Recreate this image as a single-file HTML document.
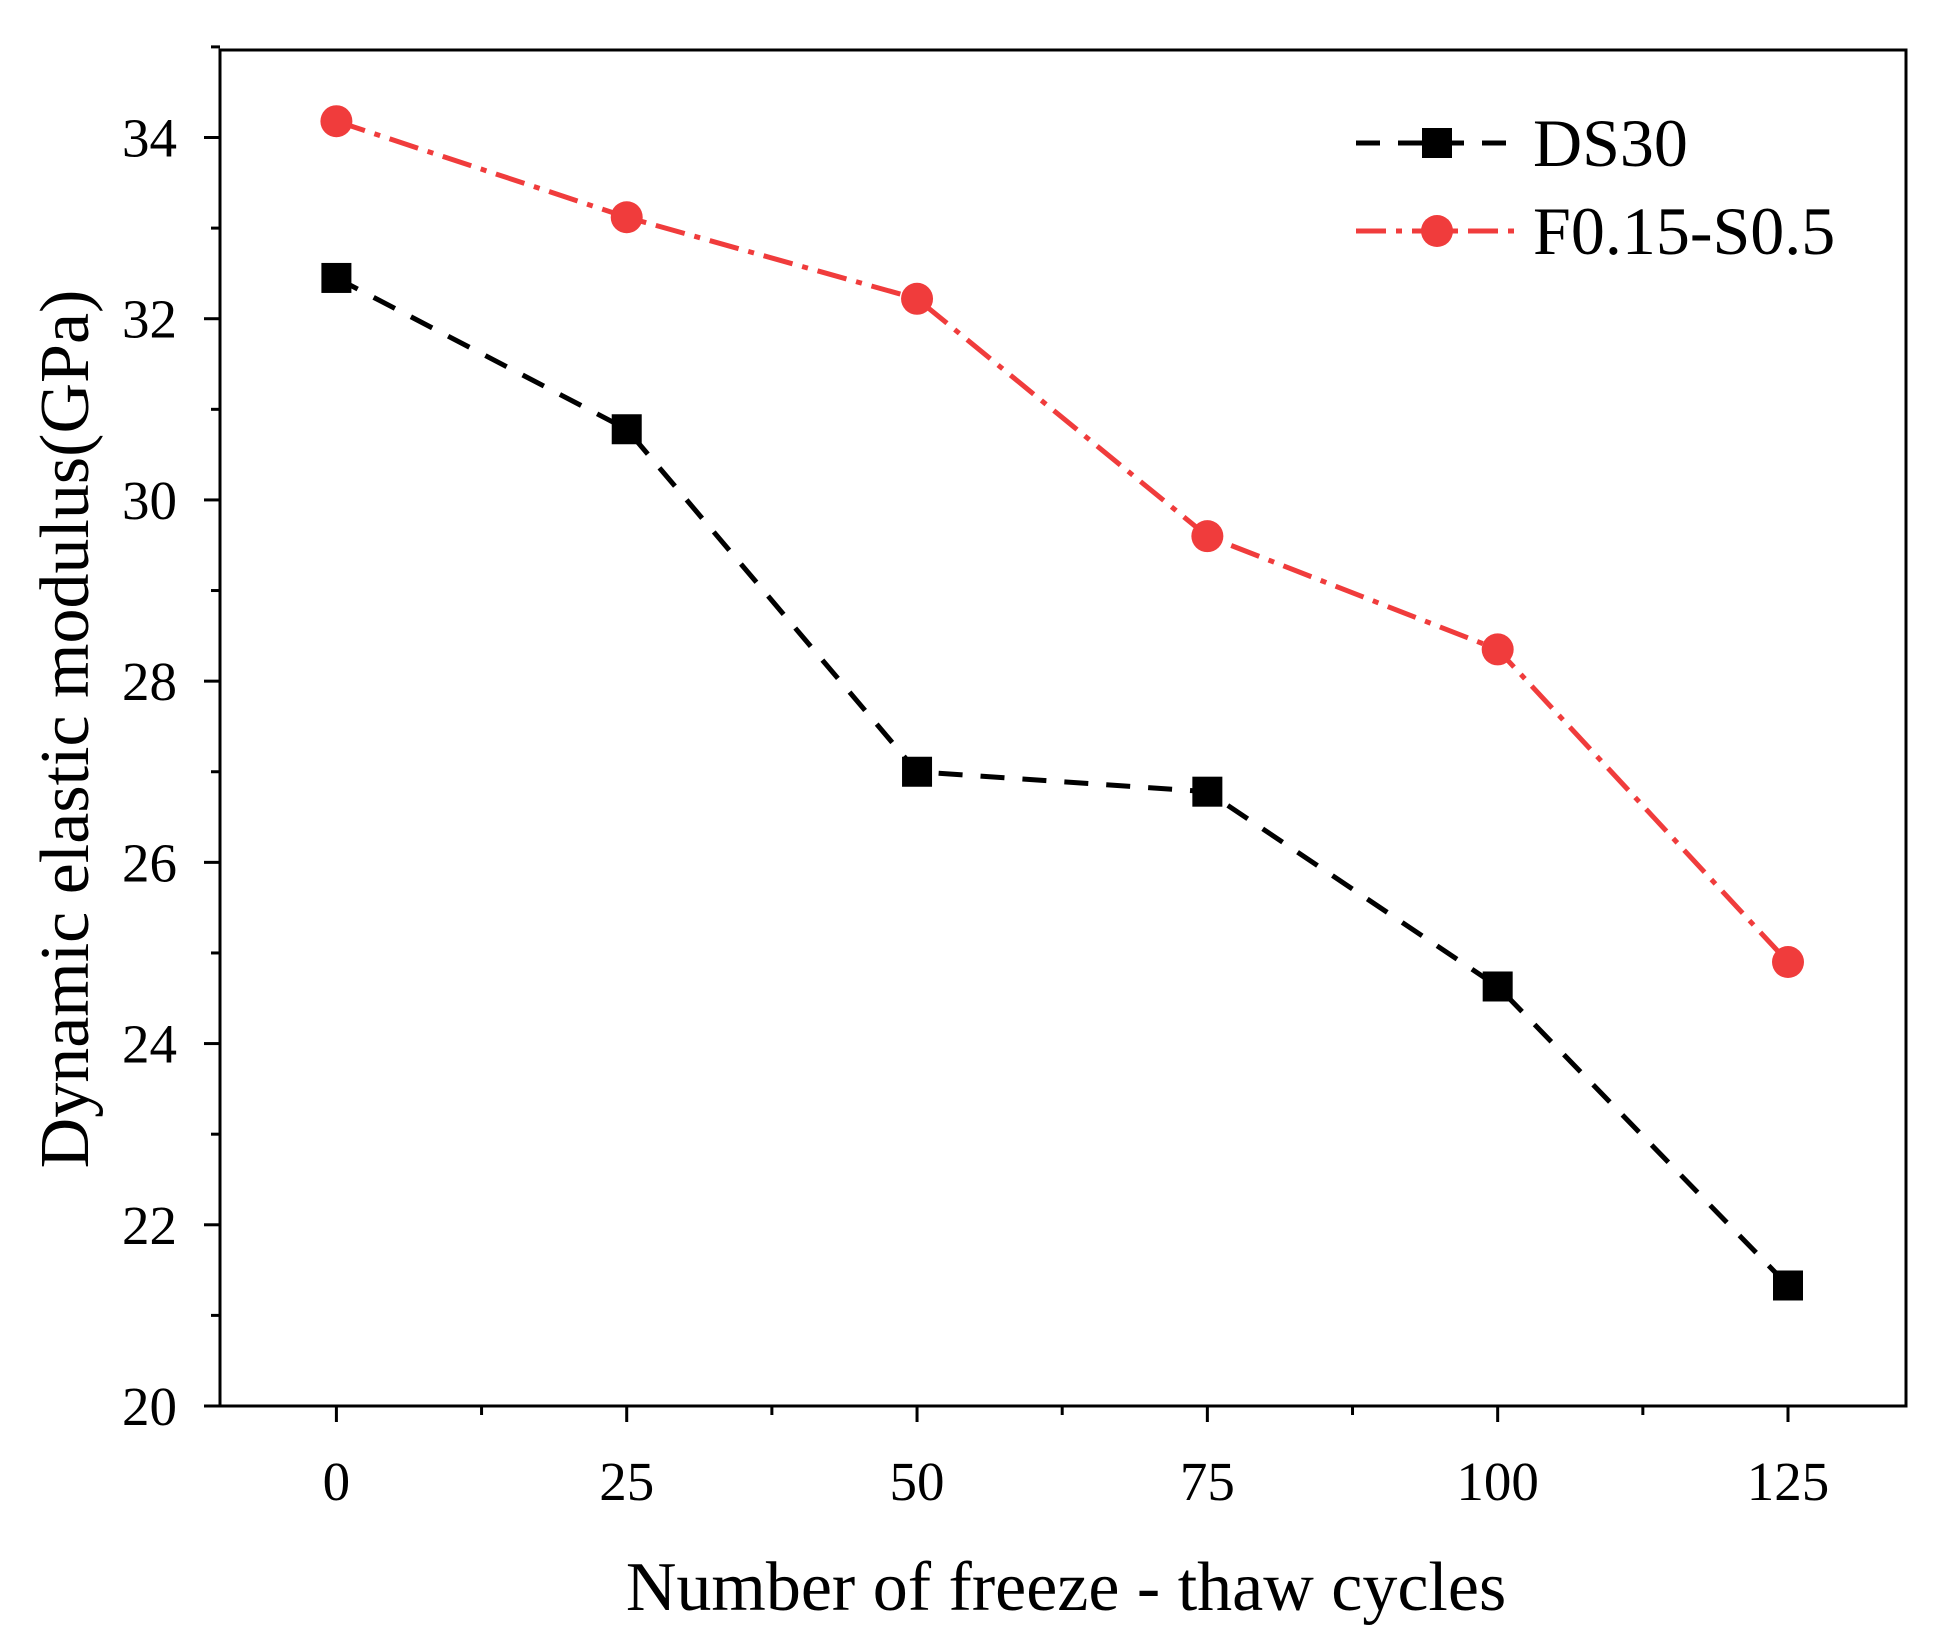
<!DOCTYPE html>
<html><head><meta charset="utf-8"><style>body{margin:0;background:#fff}svg{display:block}text{font-family:"Liberation Serif",serif;fill:#000}</style></head>
<body>
<svg id="chart" width="1944" height="1641" viewBox="0 0 1944 1641"></svg>
<script>
const categories=[0,25,50,75,100,125];
const ds30=[32.45,30.78,27.0,26.78,24.63,21.33];
const f015=[34.18,33.12,32.22,29.6,28.35,24.9];
const yTicks=[20,22,24,26,28,30,32,34];
const xTicks=[0,25,50,75,100,125];
const NS='http://www.w3.org/2000/svg';
const svg=document.getElementById('chart');
const L=220,R=1906,T=50,B=1406;
const xs=v=>336.4+(v-0)*(1788-336.4)/125;
const ys=v=>1406-(v-20)*(1406-137.5)/14;
function el(tag,a,parent){const e=document.createElementNS(NS,tag);for(const k in a)e.setAttribute(k,a[k]);(parent||svg).appendChild(e);return e;}
const frame=el('rect',{x:L,y:T,width:R-L,height:B-T,fill:'none',stroke:'#000','stroke-width':3});


yTicks.forEach((v,i)=>{
 const y=ys(v);
 const t=el('line',{x1:L-16,x2:L,y1:y,y2:y,stroke:'#000','stroke-width':3});
 
 
 if(i<yTicks.length-1){const ym=ys(v+1);const m=el('line',{x1:L-9,x2:L,y1:ym,y2:ym,stroke:'#000','stroke-width':3});
 
 }
 const lb=el('text',{x:177,y:y+19,'font-size':55,'text-anchor':'end'});lb.textContent=v;
 
 
});
{const ym=ys(35);const m=el('line',{x1:L-9,x2:L,y1:ym,y2:ym,stroke:'#000','stroke-width':3});
 
 }
xTicks.forEach((v,i)=>{
 const x=xs(v);
 const t=el('line',{x1:x,x2:x,y1:B,y2:B+16,stroke:'#000','stroke-width':3});
 
 
 const xm=xs(v+12.5);
 if(xm<R){const m=el('line',{x1:xm,x2:xm,y1:B,y2:B+9,stroke:'#000','stroke-width':3});
 
 }
 const lb=el('text',{x:x,y:1500,'font-size':55,'text-anchor':'middle'});lb.textContent=v;
 
 
});
const xt=el('text',{x:1066,y:1610,'font-size':70,'text-anchor':'middle'});xt.textContent='Number of freeze - thaw cycles';


const yt=el('text',{x:0,y:0,'font-size':70,'text-anchor':'middle',transform:'translate(88,729) rotate(-90)'});yt.textContent='Dynamic elastic modulus(GPa)';


function series(vals,color,dash,shape,name){
 const pts=vals.map((v,i)=>xs(categories[i])+','+ys(v)).join(' ');
 const pl=el('polyline',{points:pts,fill:'none',stroke:color,'stroke-width':5,'stroke-dasharray':dash});
 
 
 vals.forEach((v,i)=>{
  const x=xs(categories[i]),y=ys(v);let m;
  if(shape==='sq')m=el('rect',{x:x-15,y:y-15,width:30,height:30,fill:color});
  else m=el('circle',{cx:x,cy:y,r:16,fill:color});
  
  
 });
}
series(ds30,'#000','24,18','sq','ds30');
series(f015,'#f03c3c','30,10,6,10','ci','f015');
const l1=el('line',{x1:1356,x2:1518,y1:143,y2:143,stroke:'#000','stroke-width':5,'stroke-dasharray':'24,18'});


const m1=el('rect',{x:1422,y:128,width:30,height:30,fill:'#000'});


const t1=el('text',{x:1533,y:166,'font-size':68});t1.textContent='DS30';


const l2=el('line',{x1:1356,x2:1518,y1:231,y2:231,stroke:'#f03c3c','stroke-width':5,'stroke-dasharray':'30,10,6,10'});


const m2=el('circle',{cx:1437,cy:231,r:16,fill:'#f03c3c'});


const t2=el('text',{x:1533,y:254,'font-size':68});t2.textContent='F0.15-S0.5';


</script>
</body></html>
